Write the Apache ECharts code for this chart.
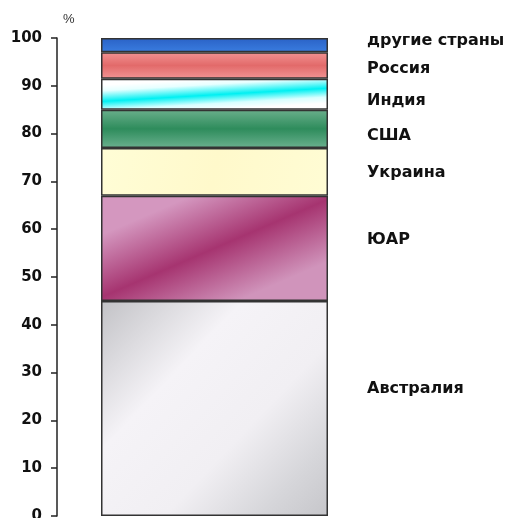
<!DOCTYPE html>
<html><head><meta charset="utf-8">
<script src="https://cdn.jsdelivr.net/npm/echarts@6/dist/echarts.min.js"></script>
<style>html,body{margin:0;padding:0;background:#fff}#c{width:511px;height:518px}</style>
</head><body><div id="c"></div>
<script>
var categories = [''];
var seriesNames = ['Австралия', 'ЮАР', 'Украина', 'США', 'Индия', 'Россия', 'другие страны'];
var seriesValues = [45, 22, 10, 8, 6.5, 5.5, 3];
var yTicks = [0, 10, 20, 30, 40, 50, 60, 70, 80, 90, 100];

var G = echarts.graphic.LinearGradient;
var fills = [
  new G(0, 0, 1, 1, [{offset:0,color:'#c2c2c6'},{offset:0.33,color:'#f5f3f7'},{offset:0.62,color:'#f1eff3'},{offset:0.84,color:'#d6d6da'},{offset:1,color:'#c6c6ca'}]),
  new G(0.4, 0, 0.6, 1, [{offset:0,color:'#d497bf'},{offset:0.5,color:'#a63470'},{offset:1,color:'#d094bb'}]),
  new G(0, 0, 1, 1, [{offset:0,color:'#fffdd6'},{offset:0.5,color:'#fff9cb'},{offset:1,color:'#fffcd4'}]),
  new G(0, 0, 0, 1, [{offset:0,color:'#6aaf8c'},{offset:0.5,color:'#2e8c5c'},{offset:1,color:'#6ab08e'}]),
  new G(0.5, 0, 0.508, 1, [{offset:0,color:'#ffffff'},{offset:0.18,color:'#e6ffff'},{offset:0.52,color:'#00f0f2'},{offset:0.8,color:'#d8ffff'},{offset:1,color:'#ffffff'}]),
  new G(0, 0, 0, 1, [{offset:0,color:'#f29292'},{offset:0.5,color:'#e26a6a'},{offset:1,color:'#f29494'}]),
  new G(0, 0, 0, 1, [{offset:0,color:'#2a62c6'},{offset:1,color:'#3a7de0'}])
];
var labelOffsets = [[0,-20],[0,-8],[0,1],[0,7],[0,7],[0,3.5],[0,-4]];

var series = seriesNames.map(function(n, i){
  return {
    name: n, type: 'bar', stack: 's', barWidth: 227,
    data: [seriesValues[i]],
    itemStyle: {color: fills[i], borderColor: '#333', borderWidth: 1.5},
    label: {show: true, position: 'right', distance: 39, offset: labelOffsets[i],
      formatter: n, color: '#111', fontFamily: 'DejaVu Sans', fontWeight: 'bold', fontSize: 16},
    emphasis: {disabled: true}
  };
});

var chart = echarts.init(document.getElementById('c'), null, {renderer: 'canvas'});
chart.setOption({
  animation: false,
  grid: {left: 57, right: 139, top: 38, bottom: 2, containLabel: false, outerBoundsMode: 'none'},
  xAxis: {type: 'category', data: categories, show: false},
  yAxis: {type: 'value', min: yTicks[0], max: yTicks[yTicks.length-1], interval: 10,
    name: '%', nameLocation: 'end', nameGap: 12,
    nameTextStyle: {color: '#333', fontSize: 13, fontFamily: 'Liberation Sans, Arial, sans-serif', align: 'left', padding: [0,0,0,6]},
    axisLine: {show: true, lineStyle: {color: '#222', width: 1.5}},
    axisTick: {show: true, inside: false, length: 6, lineStyle: {color: '#222', width: 1.5}},
    axisLabel: {margin: 15, color: '#111', fontFamily: 'DejaVu Sans', fontWeight: 'bold', fontSize: 15},
    splitLine: {show: false}
  },
  series: series
});
</script></body></html>
